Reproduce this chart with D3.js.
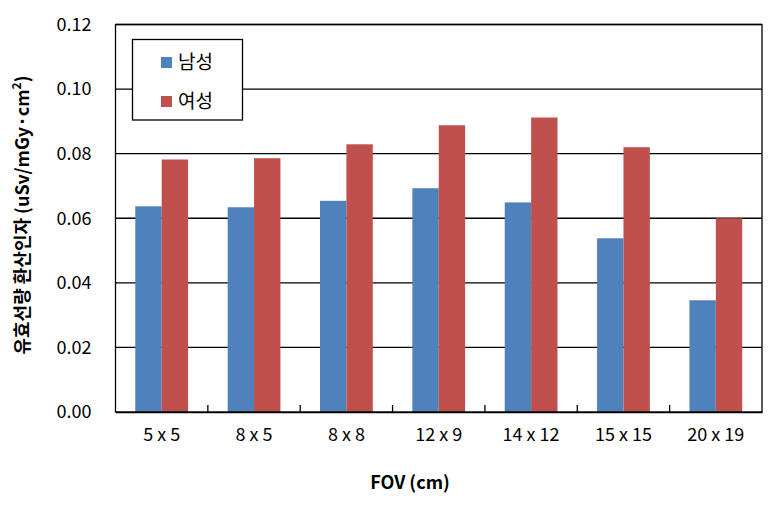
<!DOCTYPE html>
<html>
<head>
<meta charset="utf-8">
<style>
    body { margin: 0; background: #fff; }
    text { font-family: "Noto Sans CJK KR", "Noto Sans", sans-serif; fill: #000; }
</style>
</head>
<body>
<svg width="782" height="515"></svg>
<script src="https://d3js.org/d3.v7.min.js"></script>
<script>
    const categories = ["5 x 5", "8 x 5", "8 x 8", "12 x 9", "14 x 12", "15 x 15", "20 x 19"];
    const male = [0.0637, 0.0634, 0.0654, 0.0693, 0.0649, 0.0538, 0.0346];
    const female = [0.0782, 0.0786, 0.0829, 0.0888, 0.0912, 0.0820, 0.0600];
    const seriesNames = ["남성", "여성"];
    const yTicks = [0, 0.02, 0.04, 0.06, 0.08, 0.10, 0.12];
    const colors = ["#4f81bd", "#c0504d"];

    const svg = d3.select("svg");
    const plotL = 115.5, plotR = 762, plotT = 24.5, plotB = 412;

    const x = d3.scaleBand().domain(categories).range([plotL, plotR]);
    const y = d3.scaleLinear().domain([0, 0.12]).range([plotB, plotT]);
    const barW = x.bandwidth() / 3.5;   // gap width 150%

    // grid lines
    svg.append("g")
        .selectAll("line")
        .data(yTicks.slice(1))
        .join("line")
        .attr("x1", plotL).attr("x2", plotR)
        .attr("y1", d => y(d)).attr("y2", d => y(d))
        .attr("stroke", "#000").attr("stroke-width", 1.3);

    // bars
    const series = [male, female];
    series.forEach((vals, s) => {
        svg.append("g")
            .selectAll("rect")
            .data(vals)
            .join("rect")
            .attr("x", (d, i) => x(categories[i]) + x.bandwidth() * 0.75 / 3.5 + s * barW)
            .attr("width", barW)
            .attr("y", d => y(d))
            .attr("height", d => plotB - y(d))
            .attr("fill", colors[s]);
    });

    // plot frame
    svg.append("rect")
        .attr("x", plotL).attr("y", plotT)
        .attr("width", plotR - plotL).attr("height", plotB - plotT)
        .attr("fill", "none").attr("stroke", "#000").attr("stroke-width", 1.3);

    // y axis
    const yAxis = svg.append("g")
        .attr("transform", `translate(${plotL},0)`)
        .call(d3.axisLeft(y).tickValues(yTicks).tickFormat(d3.format(".2f")).tickSize(0).tickPadding(24));
    yAxis.select(".domain").remove();
    yAxis.selectAll("text").style("font-size", "18px");

    // x axis: category boundaries ticks pointing inward
    const xAxis = svg.append("g")
        .attr("transform", `translate(0,${plotB})`)
        .call(d3.axisBottom(x).tickSize(0).tickPadding(16));
    xAxis.select(".domain").attr("stroke", "#000").attr("stroke-width", 1.3);
    xAxis.selectAll("text").style("font-size", "18px");

    svg.append("g")
        .selectAll("line")
        .data(categories.slice(1))
        .join("line")
        .attr("x1", d => x(d)).attr("x2", d => x(d))
        .attr("y1", plotB).attr("y2", plotB - 7)
        .attr("stroke", "#000").attr("stroke-width", 1.3);

    // axis titles
    svg.append("text")
        .attr("x", 410).attr("y", 489)
        .attr("text-anchor", "middle")
        .style("font-size", "18px").style("font-weight", "bold")
        .text("FOV (cm)");

    const yTitle = svg.append("text")
        .attr("transform", "translate(29,215) rotate(-90)")
        .attr("text-anchor", "middle")
        .style("font-size", "18px").style("font-weight", "bold");
    yTitle.append("tspan").text("유효선량 환산인자 (uSv/mGy·cm");
    yTitle.append("tspan").attr("baseline-shift", "super").style("font-size", "12px").text("2");
    yTitle.append("tspan").text(")");

    // legend
    const legend = svg.append("g");
    legend.append("rect")
        .attr("x", 132.5).attr("y", 39.5)
        .attr("width", 110).attr("height", 80.5)
        .attr("fill", "#fff").attr("stroke", "#000").attr("stroke-width", 1.3);
    seriesNames.forEach((name, i) => {
        legend.append("rect")
            .attr("x", 161).attr("y", 57 + i * 39)
            .attr("width", 11).attr("height", 11)
            .attr("fill", colors[i]);
        legend.append("text")
            .attr("x", 178).attr("y", 69 + i * 39)
            .style("font-size", "19px")
            .text(name);
    });
</script>
</body>
</html>
